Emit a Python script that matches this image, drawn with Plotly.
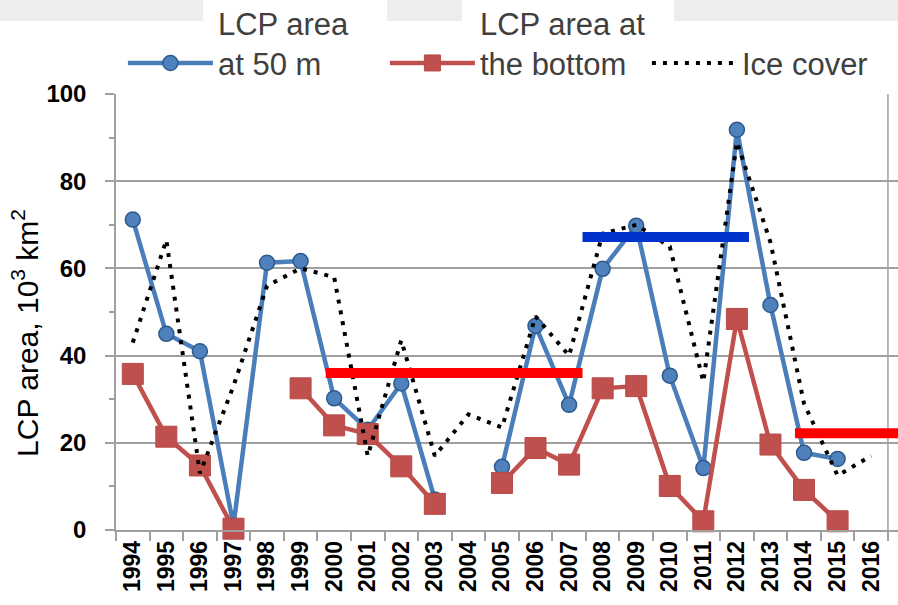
import plotly.graph_objects as go

# Years on the category axis
years = [str(y) for y in range(1994, 2017)]

# LCP area at 50 m depth, 10^3 km^2 (None = no survey)
lcp_50m = [71.2, 45.0, 41.0, 1.0, 61.3, 61.7, 30.2, 23.0, 33.6, 7.0, None,
           14.5, 46.8, 28.7, 59.9, 69.8, 35.4, 14.2, 91.8, 51.6, 17.7, 16.3, None]

# LCP area at the bottom, 10^3 km^2
lcp_bottom = [35.8, 21.4, 14.8, 0.3, None, 32.5, 24.0, 22.0, 14.6, 6.0, None,
              10.8, 18.8, 15.0, 32.5, 33.0, 10.1, 2.0, 48.4, 19.6, 9.2, 2.0, None]

# Ice cover (same units scale)
ice_cover = [43.0, 66.5, 13.0, 33.0, 56.0, 60.0, 58.0, 17.0, 43.5, 17.0, 26.5,
             23.5, 49.0, 40.0, 68.0, 70.0, 65.0, 34.0, 89.0, 66.0, 29.0, 12.5, 17.0]

# Period mean levels: (first category index, last category index, level)
period_start = [5.75, 13.4, 19.73]
period_end = [13.4, 18.36, 22.8]
period_level = [36.0, 67.2, 22.2]
period_color = ["#FF0000", "#0033CC", "#FF0000"]

y_ticks = [0, 20, 40, 60, 80, 100]

FONT = "Arial, Liberation Sans, sans-serif"

fig = go.Figure()

fig.add_trace(go.Scatter(
    x=years, y=lcp_50m, name="LCP area<br>at 50 m", mode="lines+markers",
    line=dict(color="#4A7EBB", width=4.5),
    marker=dict(symbol="circle", size=15, color="#4F81BD",
                line=dict(color="#2E5A8E", width=1.5)),
    connectgaps=False, cliponaxis=False,
))
fig.add_trace(go.Scatter(
    x=years, y=lcp_bottom, name="LCP area at<br>the bottom", mode="lines+markers",
    line=dict(color="#C0504D", width=4.5),
    marker=dict(symbol="square", size=21, color="#C0504D",
                line=dict(color="#B84A47", width=1)),
    connectgaps=False, cliponaxis=False,
))
fig.add_trace(go.Scatter(
    x=years, y=ice_cover, name="<br>Ice cover", mode="lines",
    line=dict(color="#000000", width=4, dash="4px,7px"),
))

shapes = []
# light strip along the top edge, with white boxes behind the legend labels
shapes.append(dict(type="rect", xref="paper", yref="paper",
                   x0=-0.16, x1=1.01, y0=1.1674, y1=1.23,
                   fillcolor="#EDEDED", line=dict(width=0), layer="below"))
for x0, x1 in [(0.1113, 0.3465), (0.4425, 0.7136)]:
    shapes.append(dict(type="rect", xref="paper", yref="paper",
                       x0=x0, x1=x1, y0=1.1674, y1=1.23,
                       fillcolor="#FFFFFF", line=dict(width=0), layer="below"))
# right frame line
shapes.append(dict(type="line", xref="x", yref="y", x0=22.5, x1=22.5, y0=0, y1=100,
                   line=dict(color="#A0A0A0", width=1.5), layer="below"))
# period mean bars
for s, e, lv, c in zip(period_start, period_end, period_level, period_color):
    shapes.append(dict(type="line", xref="x", yref="y", x0=s, x1=e, y0=lv, y1=lv,
                       line=dict(color=c, width=10), layer="above"))

fig.update_layout(
    width=898, height=605, autosize=False,
    margin=dict(l=116, r=0, t=94, b=75, autoexpand=False),
    paper_bgcolor="white", plot_bgcolor="white",
    font=dict(family=FONT, color="#000000"),
    showlegend=True,
    legend=dict(
        orientation="h", x=-0.0001, y=1.2408, xanchor="left", yanchor="top",
        font=dict(size=31, color="#404040", family=FONT),
        itemwidth=85, valign="bottom", bgcolor="rgba(0,0,0,0)",
        bordercolor="rgba(0,0,0,0)", borderwidth=7,
        entrywidth=162, tracegroupgap=0,
    ),
    shapes=shapes,
    annotations=[dict(
        text="LCP area, 10<sup>3</sup> km<sup>2</sup>", textangle=-90,
        xref="paper", yref="paper", x=-0.1164, y=0.452, showarrow=False,
        xanchor="center", yanchor="middle",
        font=dict(size=30, color="#000000", family=FONT),
    )],
)

fig.update_xaxes(
    type="category", categoryorder="array", categoryarray=years,
    range=[-0.5, 22.8], tickson="boundaries", ticks="outside", ticklen=9,
    tickcolor="#A0A0A0", tickwidth=1.5, tickangle=-90,
    tickfont=dict(size=23, family=FONT, weight="bold"),
    showgrid=False, showline=True, linecolor="#A0A0A0", linewidth=1.5, zeroline=False,
)
fig.update_yaxes(
    range=[0, 100], tickvals=y_ticks, ticks="outside", ticklen=9,
    tickcolor="#A0A0A0", tickwidth=1.5,
    tickfont=dict(size=24, family=FONT, weight="bold"),
    showgrid=True, gridcolor="#A0A0A0", gridwidth=1.5,
    showline=True, linecolor="#A0A0A0", linewidth=1.5, zeroline=False,
    minor=dict(dtick=10, ticks="outside", ticklen=5, tickcolor="#A0A0A0", showgrid=False),
    ticklabelstandoff=14,
)

fig.write_html("out.html")
